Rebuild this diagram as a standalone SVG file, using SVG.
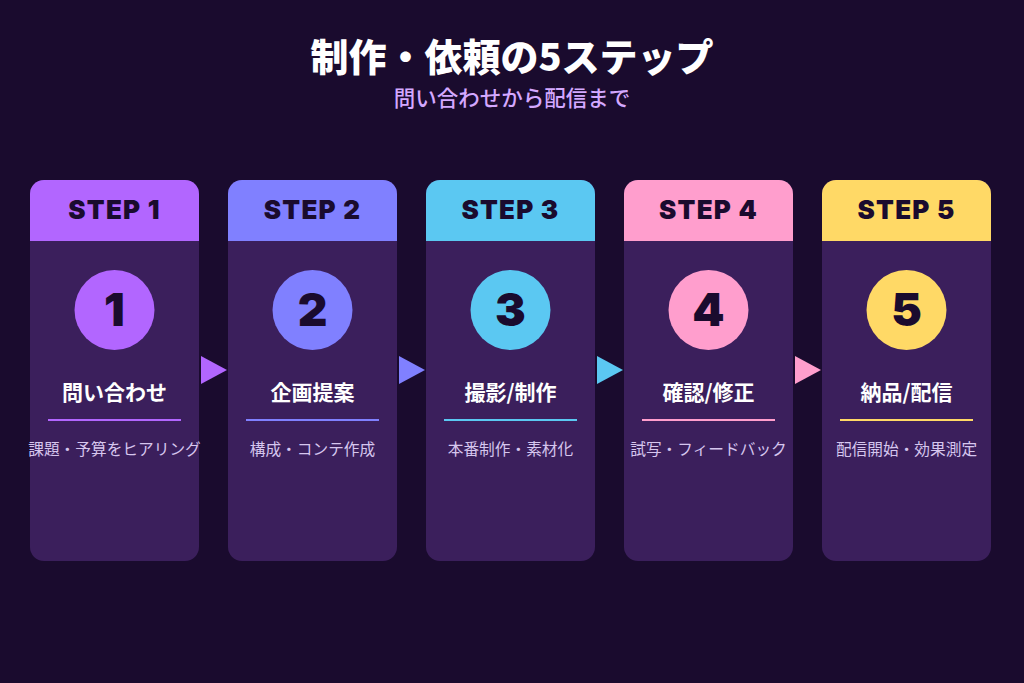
<svg xmlns="http://www.w3.org/2000/svg" width="1024" height="683" viewBox="0 0 1024 683">
<style>
.bg{fill:#1a0b2e}
.body{fill:#3b1f5c}
.step{font-family:Inter,"Noto Sans",sans-serif;font-weight:900;font-size:26px;fill:#1a0b2e;text-anchor:middle;letter-spacing:1.2px}
.num{font-family:Inter,"Noto Sans",sans-serif;font-weight:900;font-size:46px;fill:#1a0b2e;text-anchor:middle}
.ttl{font-family:"Noto Sans CJK JP",sans-serif;font-weight:700;font-size:21px;fill:#ffffff;text-anchor:middle}
.desc{font-family:"Noto Sans CJK JP",sans-serif;font-weight:400;font-size:15.7px;fill:#d6c6ee;text-anchor:middle}
</style>
<rect class="bg" x="0" y="0" width="1024" height="683"/>
<text x="512" y="71" font-family="'Noto Sans CJK JP',sans-serif" font-weight="900" font-size="38" fill="#ffffff" text-anchor="middle">制作・依頼の5ステップ</text>
<text x="512" y="106" font-family="'Noto Sans CJK JP',sans-serif" font-weight="500" font-size="21.5" fill="#d4a8ff" text-anchor="middle">問い合わせから配信まで</text>

<g id="connectors">
<polygon points="201,356 227,370 201,384" fill="#b266ff"/>
<polygon points="399,356 425,370 399,384" fill="#8080ff"/>
<polygon points="597,356 623,370 597,384" fill="#5bc8f2"/>
<polygon points="795,356 821,370 795,384" fill="#ff9ecd"/>
</g>

<g id="step1">
<rect class="body" x="30" y="180" width="169" height="381" rx="14"/>
<path d="M30,241V194A14,14 0 0 1 44,180H185A14,14 0 0 1 199,194V241Z" fill="#b266ff"/>
<text class="step" x="114.5" y="219">STEP 1</text>
<circle cx="114.5" cy="310" r="40" fill="#b266ff"/>
<text class="num" x="114.5" y="326">1</text>
<text class="ttl" x="114.5" y="400">問い合わせ</text>
<rect x="48" y="419" width="133" height="2" fill="#b266ff"/>
<text class="desc" x="114.5" y="455">課題・予算をヒアリング</text>
</g>

<g id="step2">
<rect class="body" x="228" y="180" width="169" height="381" rx="14"/>
<path d="M228,241V194A14,14 0 0 1 242,180H383A14,14 0 0 1 397,194V241Z" fill="#8080ff"/>
<text class="step" x="312.5" y="219">STEP 2</text>
<circle cx="312.5" cy="310" r="40" fill="#8080ff"/>
<text class="num" x="312.5" y="326">2</text>
<text class="ttl" x="312.5" y="400">企画提案</text>
<rect x="246" y="419" width="133" height="2" fill="#8080ff"/>
<text class="desc" x="312.5" y="455">構成・コンテ作成</text>
</g>

<g id="step3">
<rect class="body" x="426" y="180" width="169" height="381" rx="14"/>
<path d="M426,241V194A14,14 0 0 1 440,180H581A14,14 0 0 1 595,194V241Z" fill="#5bc8f2"/>
<text class="step" x="510.5" y="219">STEP 3</text>
<circle cx="510.5" cy="310" r="40" fill="#5bc8f2"/>
<text class="num" x="510.5" y="326">3</text>
<text class="ttl" x="510.5" y="400">撮影/制作</text>
<rect x="444" y="419" width="133" height="2" fill="#5bc8f2"/>
<text class="desc" x="510.5" y="455">本番制作・素材化</text>
</g>

<g id="step4">
<rect class="body" x="624" y="180" width="169" height="381" rx="14"/>
<path d="M624,241V194A14,14 0 0 1 638,180H779A14,14 0 0 1 793,194V241Z" fill="#ff9ecd"/>
<text class="step" x="708.5" y="219">STEP 4</text>
<circle cx="708.5" cy="310" r="40" fill="#ff9ecd"/>
<text class="num" x="708.5" y="326">4</text>
<text class="ttl" x="708.5" y="400">確認/修正</text>
<rect x="642" y="419" width="133" height="2" fill="#ff9ecd"/>
<text class="desc" x="708.5" y="455">試写・フィードバック</text>
</g>

<g id="step5">
<rect class="body" x="822" y="180" width="169" height="381" rx="14"/>
<path d="M822,241V194A14,14 0 0 1 836,180H977A14,14 0 0 1 991,194V241Z" fill="#ffd966"/>
<text class="step" x="906.5" y="219">STEP 5</text>
<circle cx="906.5" cy="310" r="40" fill="#ffd966"/>
<text class="num" x="906.5" y="326">5</text>
<text class="ttl" x="906.5" y="400">納品/配信</text>
<rect x="840" y="419" width="133" height="2" fill="#ffd966"/>
<text class="desc" x="906.5" y="455">配信開始・効果測定</text>
</g>
</svg>
